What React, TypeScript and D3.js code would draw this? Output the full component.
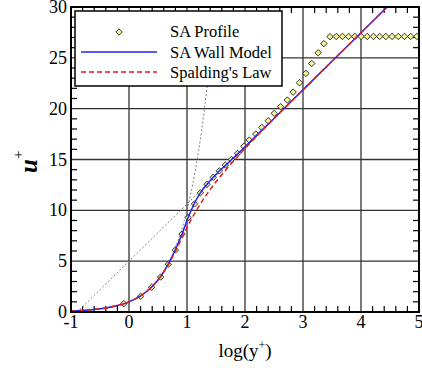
import React from 'react';
import * as d3 from 'd3';

// Canvas and plot frame
const W = 422;
const H = 370;
const PLOT = { left: 71, right: 419, top: 7, bottom: 312 };

// Axis ticks
const xTicks = [-1, 0, 1, 2, 3, 4, 5];
const yTicks = [0, 5, 10, 15, 20, 25, 30];
const xGrid = [0, 1, 2, 3, 4];
const yGrid = [5, 10, 15, 20, 25];

// SA profile samples: log10(y+) and u+
const profileLogY = [
  -0.09, 0.2, 0.39, 0.546, 0.678, 0.8, 0.915, 1.021, 1.13, 1.23, 1.345, 1.453, 1.557,
  1.661, 1.765, 1.872, 1.98, 2.074, 2.185, 2.29, 2.4, 2.505, 2.615, 2.73, 2.83, 2.94,
  3.05, 3.15, 3.262, 3.36, 3.466, 3.573, 3.68, 3.787, 3.894, 4.001, 4.108, 4.215,
  4.322, 4.429, 4.536, 4.643, 4.75, 4.857, 4.964,
];
const profileU = [
  0.82, 1.54, 2.43, 3.44, 4.7, 6.1, 7.67, 9.28, 10.63, 11.72, 12.55, 13.25, 13.88,
  14.45, 15.0, 15.6, 16.3, 16.91, 17.5, 18.16, 18.81, 19.54, 20.19, 20.85, 21.63, 22.55,
  23.47, 24.45, 25.5, 26.4, 27.08, 27.1, 27.1, 27.1, 27.1, 27.1, 27.1, 27.1,
  27.1, 27.1, 27.1, 27.1, 27.1, 27.1, 27.1,
];

// SA wall model curve
const wallLogY = [
  -1, -0.7, -0.4, -0.2, 0, 0.2, 0.4, 0.55, 0.68, 0.8, 0.92, 1.02, 1.12, 1.23, 1.35,
  1.46, 1.56, 1.67, 1.77, 1.88, 2.0, 2.2, 2.5, 3.0, 3.5, 4.0, 4.5, 5.0,
];
const wallU = [
  0.1, 0.2, 0.4, 0.63, 1.0, 1.58, 2.5, 3.52, 4.75, 6.15, 7.75, 9.3, 10.6, 11.72, 12.6,
  13.3, 13.9, 14.45, 15.0, 15.58, 16.25, 17.37, 19.04, 21.85, 24.66, 27.47, 30.28, 33.09,
];

// Spalding's law curve
const spaldingLogY = [
  -1, -0.699, -0.301, 0, 0.301, 0.479, 0.608, 0.712, 0.803, 0.888, 0.974, 1.064, 1.163,
  1.272, 1.394, 1.527, 1.672, 1.987, 2.325, 2.673, 3.561, 4.451, 5.0,
];
const spaldingU = [
  0.1, 0.2, 0.5, 1.0, 2.0, 3.0, 4.0, 5.0, 6.0, 7.0, 8.0, 9.0, 10.0,
  11.0, 12.0, 13.0, 14.0, 16.0, 18.0, 20.0, 25.0, 30.0, 33.08,
];

// Reference lines: viscous sublayer u+ = y+ and log law
const linearLogY = [-1, -0.5, 0, 0.25, 0.5, 0.75, 0.9, 1.0, 1.1, 1.2, 1.3, 1.4, 1.5];
const linearU = [0.1, 0.316, 1.0, 1.78, 3.16, 5.62, 7.94, 10.0, 12.59, 15.85, 19.95, 25.12, 31.62];
const logLawLogY = [-1, 5];
const logLawU = [-0.617, 33.09];

const legendLabels = ['SA Profile', 'SA Wall Model', "Spalding's Law"];

const FONT = 'Liberation Serif';

export default function App() {
  const x = d3.scaleLinear().domain([-1, 5]).range([PLOT.left, PLOT.right]);
  const y = d3.scaleLinear().domain([0, 30]).range([PLOT.bottom, PLOT.top]);

  const pts = (xs: number[], ys: number[]) => xs.map((v, i) => [v, ys[i]] as [number, number]);
  const smooth = d3
    .line<[number, number]>()
    .x((d) => x(d[0]))
    .y((d) => y(d[1]))
    .curve(d3.curveMonotoneX);
  const straight = d3
    .line<[number, number]>()
    .x((d) => x(d[0]))
    .y((d) => y(d[1]));

  const xMinor = d3.range(-1, 5.0001, 0.2).filter((v) => Math.abs(v - Math.round(v)) > 1e-6);
  const yMinor = d3.range(0, 31, 1).filter((v) => v % 5 !== 0);

  const diamond = (cx: number, cy: number, r: number) =>
    `M${cx},${cy - r}L${cx + r},${cy}L${cx},${cy + r}L${cx - r},${cy}Z`;

  const pw = PLOT.right - PLOT.left;
  const ph = PLOT.bottom - PLOT.top;
  const txt = { fontFamily: FONT };

  return (
    <svg
      width={W}
      height={H}
      style={{ position: 'absolute', left: 0, top: 0, background: '#fff', fontFamily: FONT }}
    >
      <defs>
        <clipPath id="plotClip">
          <rect x={PLOT.left} y={PLOT.top} width={pw} height={ph} />
        </clipPath>
      </defs>

      {/* grid */}
      <g stroke="#333" strokeWidth={1.3}>
        {xGrid.map((v) => (
          <line key={'gx' + v} x1={x(v)} x2={x(v)} y1={PLOT.top} y2={PLOT.bottom} />
        ))}
        {yGrid.map((v) => (
          <line key={'gy' + v} x1={PLOT.left} x2={PLOT.right} y1={y(v)} y2={y(v)} />
        ))}
      </g>

      {/* minor ticks, inward on all four sides */}
      <g stroke="#000" strokeWidth={1.2}>
        {xMinor.map((v, i) => (
          <g key={'xm' + i}>
            <line x1={x(v)} x2={x(v)} y1={PLOT.bottom} y2={PLOT.bottom - 6} />
            <line x1={x(v)} x2={x(v)} y1={PLOT.top} y2={PLOT.top + 6} />
          </g>
        ))}
        {yMinor.map((v) => (
          <g key={'ym' + v}>
            <line x1={PLOT.left} x2={PLOT.left + 6} y1={y(v)} y2={y(v)} />
            <line x1={PLOT.right} x2={PLOT.right - 6} y1={y(v)} y2={y(v)} />
          </g>
        ))}
      </g>

      <g clipPath="url(#plotClip)">
        {/* reference lines */}
        <path
          d={smooth(pts(linearLogY, linearU)) || ''}
          fill="none"
          stroke="#808080"
          strokeWidth={1}
          strokeDasharray="2,2"
        />
        <path
          d={straight(pts(logLawLogY, logLawU)) || ''}
          fill="none"
          stroke="#808080"
          strokeWidth={1}
          strokeDasharray="2,2"
        />

        {/* SA profile markers */}
        {profileLogY.map((v, i) => (
          <path
            key={'p' + i}
            d={diamond(x(v), y(profileU[i]), 3.2)}
            fill="#f5f59a"
            stroke="#000"
            strokeWidth={0.8}
          />
        ))}

        {/* SA wall model */}
        <path
          d={smooth(pts(wallLogY, wallU)) || ''}
          fill="none"
          stroke="#2020ff"
          strokeWidth={1.5}
        />
        {/* Spalding's law */}
        <path
          d={smooth(pts(spaldingLogY, spaldingU)) || ''}
          fill="none"
          stroke="#dd2020"
          strokeWidth={1.5}
          strokeDasharray="5,3"
        />
      </g>

      {/* frame */}
      <rect
        x={PLOT.left}
        y={PLOT.top}
        width={pw}
        height={ph}
        fill="none"
        stroke="#000"
        strokeWidth={2}
      />

      {/* tick labels */}
      <g fontSize={18} fill="#000" style={txt}>
        {xTicks.map((v) => (
          <text key={'xt' + v} x={x(v)} y={328} textAnchor="middle" style={txt}>
            {v}
          </text>
        ))}
        {yTicks.map((v) => (
          <text key={'yt' + v} x={PLOT.left - 4} y={y(v) + 6} textAnchor="end" style={txt}>
            {v}
          </text>
        ))}
      </g>

      {/* axis titles */}
      <text x={245} y={357} textAnchor="middle" fontSize={19} style={txt}>
        log(y
        <tspan fontSize={12} dy={-8}>
          +
        </tspan>
        <tspan dy={8}>)</tspan>
      </text>
      <text
        transform="translate(37,173) rotate(-90)"
        fontSize={25}
        fontStyle="italic"
        fontWeight="bold"
        style={txt}
      >
        u
        <tspan fontSize={15} fontStyle="normal" fontWeight="normal" dy={-14}>
          +
        </tspan>
      </text>

      {/* legend */}
      <g>
        <rect x={75} y={11} width={207} height={75} fill="#fff" stroke="#000" strokeWidth={1.5} />
        <path d={diamond(119, 32, 3.2)} fill="#f5f59a" stroke="#000" strokeWidth={0.8} />
        <line x1={81} x2={157} y1={52} y2={52} stroke="#2020ff" strokeWidth={1.5} />
        <line
          x1={81}
          x2={157}
          y1={72}
          y2={72}
          stroke="#dd2020"
          strokeWidth={1.5}
          strokeDasharray="5,3"
        />
        {legendLabels.map((t, i) => (
          <text key={t} x={170} y={37 + i * 20.5} fontSize={16.5} style={txt}>
            {t}
          </text>
        ))}
      </g>
    </svg>
  );
}
